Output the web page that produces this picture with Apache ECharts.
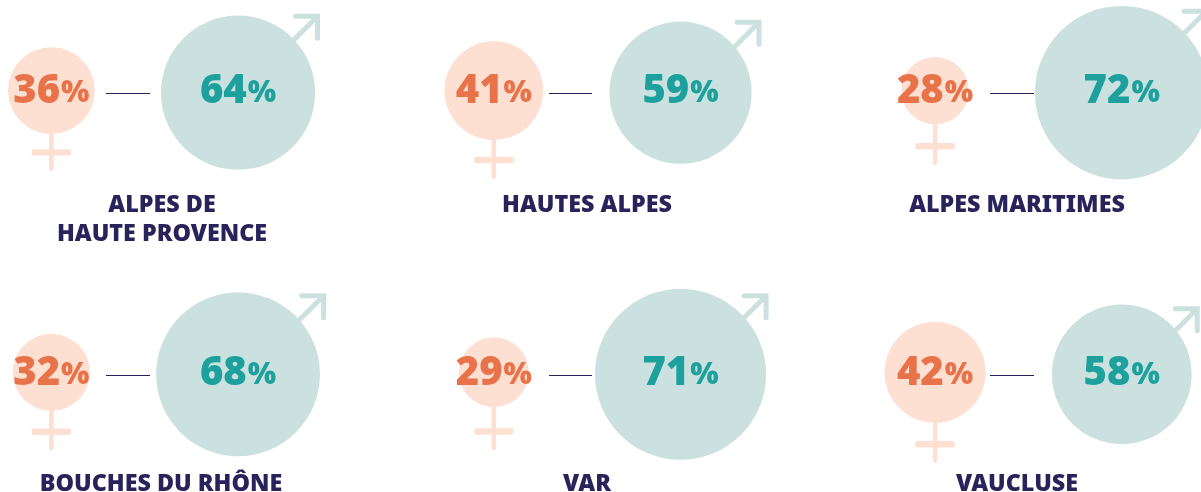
<!DOCTYPE html>
<html><head><meta charset="utf-8">
<style>html,body{margin:0;padding:0;background:#fff}#c{width:1201px;height:492px}</style>
<script src="https://cdn.jsdelivr.net/npm/echarts@6/dist/echarts.min.js"></script>
</head><body><div id="c"></div>
<script>
const departments = ['ALPES DE\nHAUTE PROVENCE','HAUTES ALPES','ALPES MARITIMES','BOUCHES DU RHÔNE','VAR','VAUCLUSE'];
const femmes = [36,41,28,32,29,42];
const hommes = [64,59,72,68,71,58];
const sexes = ['Femmes','Hommes'];

// layout only
const gridLeft = [-42,400.5,841.7,-42,400.5,841.7];
const gridMidY = [90.7,90.7,90.7,372.3,372.3,372.3];
const titleX = [157,582,1012,156,582,1012];
const titleTop = [186,186,186,465,465,465];
const lineX = [[106,150],[549,592],[990,1034],[106,150],[549,592],[990,1034]];
const tailLen = [36.5,38,40,39,42.5,39.5];
const arrowTip = [[82,-79],[81,-73],[87,-84],[88,-81],[88,-81],[78,-68]];
const diamPerPoint = 2.41, gridW = 373.4;
const cFemme='#fde0d1', cHomme='#cbe1e0', tFemme='#e8734a', tHomme='#1ea09c', navy='#28235a';
const font='Noto Sans';
const rich=c=>({n:{fontFamily:font,fontWeight:900,fontSize:40,color:c},
  p:{fontFamily:font,fontWeight:900,fontSize:30,color:c,padding:[4,0,0,1]}});
const malePath='path://M4 0H26V22M26 0L0 26';
const femalePath='path://M17.5 0V50M0 34.5H35';

const option={animation:false,grid:[],xAxis:[],yAxis:[],title:[],series:[],graphic:[]};
departments.forEach((d,i)=>{
  option.grid.push({left:gridLeft[i],top:gridMidY[i]-1,width:gridW,height:2,containLabel:false,outerBoundsMode:'none'});
  option.xAxis.push({gridIndex:i,type:'category',data:sexes,show:false});
  option.yAxis.push({gridIndex:i,type:'value',min:0,max:1,show:false});
  option.title.push({text:d,left:titleX[i],top:titleTop[i],textAlign:'center',
    textStyle:{fontFamily:font,fontWeight:900,fontSize:23.3,color:navy,lineHeight:29}});
  const rF=femmes[i]*diamPerPoint/2;
  const base={xAxisIndex:i,yAxisIndex:i,type:'scatter',clip:false,silent:true};
  option.series.push({...base,z:1,symbol:femalePath,symbolSize:[35,50],
    itemStyle:{color:'transparent',borderColor:cFemme,borderWidth:5.4,borderCap:'round',opacity:1},
    data:[{value:[sexes[0],0.5],symbolOffset:[0,rF+tailLen[i]-2.7-25]}]});
  option.series.push({...base,z:1,symbol:malePath,symbolSize:26,
    itemStyle:{color:'transparent',borderColor:cHomme,borderWidth:5,borderCap:'round',opacity:1},
    data:[{value:[sexes[1],0.5],symbolOffset:[arrowTip[i][0]-2.5-13,2+arrowTip[i][1]+2.5+13]}]});
  option.series.push({...base,z:2,symbol:'circle',symbolSize:femmes[i]*diamPerPoint,
    itemStyle:{color:cFemme,opacity:1},
    label:{show:true,position:'inside',offset:[0,1],formatter:'{n|'+femmes[i]+'}{p|%}',rich:rich(tFemme)},
    data:[[sexes[0],0.5]]});
  option.series.push({...base,z:2,symbol:'circle',symbolSize:hommes[i]*diamPerPoint,symbolOffset:[0,2],
    itemStyle:{color:cHomme,opacity:1},
    label:{show:true,position:'inside',offset:[0,-1],formatter:'{n|'+hommes[i]+'}{p|%}',rich:rich(tHomme)},
    data:[[sexes[1],0.5]]});
  option.graphic.push({type:'line',silent:true,z:3,shape:{x1:lineX[i][0],x2:lineX[i][1],y1:Math.round(gridMidY[i]+2.4)+0.5,y2:Math.round(gridMidY[i]+2.4)+0.5},
    style:{stroke:navy,lineWidth:1}});
});
const chart=echarts.init(document.getElementById('c'),null,{renderer:'canvas'});
chart.setOption(option);
</script></body></html>
